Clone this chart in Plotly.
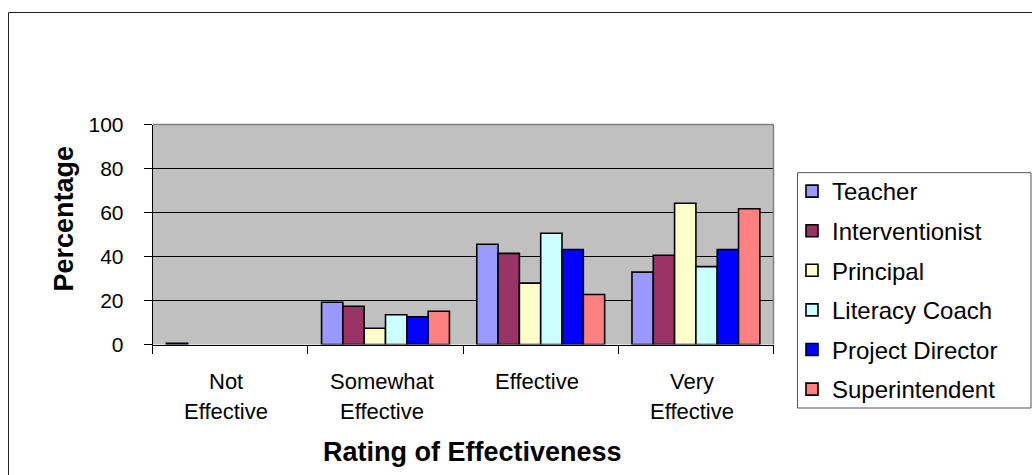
import plotly.graph_objects as go

# Survey ratings: share of each respondent group choosing each rating
categories = ["Not Effective", "Somewhat Effective", "Effective", "Very Effective"]
category_lines = [["Not", "Effective"], ["Somewhat", "Effective"], ["Effective"], ["Very", "Effective"]]
teacher = [0.6, 19.2, 45.6, 32.9]
interventionist = [0, 17.4, 41.4, 40.6]
principal = [0, 7.4, 27.9, 64.2]
literacy_coach = [0, 13.5, 50.6, 35.4]
project_director = [0, 12.6, 43.2, 43.2]
superintendent = [0, 15.1, 22.7, 61.7]

y_ticks = [0, 20, 40, 60, 80, 100]

series = [
    ("Teacher", teacher, "#9999FF"),
    ("Interventionist", interventionist, "#993366"),
    ("Principal", principal, "#FFFFCC"),
    ("Literacy Coach", literacy_coach, "#CCFFFF"),
    ("Project Director", project_director, "#0000FF"),
    ("Superintendent", superintendent, "#FF8080"),
]

FONT = "Liberation Sans, Arial, sans-serif"
W, H = 1032, 475

fig = go.Figure()
for i, (name, vals, color) in enumerate(series):
    # empty (zero) bars are left out so their outline leaves no mark on the axis
    heights = [v if v > 0 else None for v in vals]
    fig.add_trace(go.Bar(
        name=name, x=categories, y=heights,
        marker=dict(color=color, line=dict(color="black", width=1.6)),
        legendgroup=f"g{i}",
    ))

# plot area in pixels
px_l, px_r, px_t, px_b = 152.7, 773.5, 124.5, 344.5

# category labels, one annotation per text line
label_annotations = []
for cat, lines in zip(categories, category_lines):
    for j, line in enumerate(lines):
        label_annotations.append(dict(
            text=line, xref="x", yref="paper", x=cat, y=(H - (381 + 30.5 * j)) / H,
            xshift=-4, showarrow=False, xanchor="center", yanchor="middle",
            font=dict(family=FONT, size=22, color="black"),
        ))

fig.update_layout(
    width=W, height=H, autosize=False,
    margin=dict(l=0, r=0, t=0, b=0, autoexpand=False),
    paper_bgcolor="white", plot_bgcolor="#C0C0C0",
    barmode="group", bargap=0.176, bargroupgap=0,
    font=dict(family=FONT, color="black", size=21),
    showlegend=True,
    legend=dict(
        x=792 / W, y=(H - 169) / H, xanchor="left", yanchor="top",
        bgcolor="rgba(0,0,0,0)", borderwidth=0,
        font=dict(family=FONT, size=24, color="black"),
        tracegroupgap=5.4,
    ),
    xaxis=dict(
        domain=[px_l / W, px_r / W], type="category", automargin=False,
        categoryorder="array", categoryarray=categories,
        showline=True, linecolor="black", linewidth=1,
        ticks="outside", ticklen=8, tickcolor="black", tickson="boundaries",
        showgrid=False, showticklabels=False,
    ),
    yaxis=dict(
        domain=[(H - px_b) / H, (H - px_t) / H], range=[0, 100], automargin=False,
        tickvals=y_ticks, ticktext=[str(v) for v in y_ticks],
        showline=True, linecolor="black", linewidth=1,
        ticks="outside", ticklen=8, tickcolor="black",
        showgrid=True, gridcolor="black", gridwidth=1,
        tickfont=dict(size=21), ticklabelstandoff=16,
        zeroline=False,
    ),
    shapes=[
        # top and right edges of plot area
        dict(type="line", xref="x domain", yref="y domain", x0=0, x1=1, y0=1, y1=1,
             line=dict(color="#808080", width=1.5)),
        dict(type="line", xref="x domain", yref="y domain", x0=1, x1=1, y0=0, y1=1,
             line=dict(color="#808080", width=1.5)),
        # chart frame
        dict(type="rect", xref="paper", yref="paper",
             x0=8.5 / W, x1=1.2, y0=-0.2, y1=(H - 12.5) / H,
             line=dict(color="#222222", width=1)),
        # legend box
        dict(type="rect", xref="paper", yref="paper",
             x0=797.5 / W, x1=1031 / W, y0=(H - 408) / H, y1=(H - 172.7) / H,
             fillcolor="white", line=dict(color="#555555", width=1)),
    ],
    annotations=label_annotations + [
        dict(text="<b>Percentage</b>", textangle=-90, xref="paper", yref="paper",
             x=64 / W, y=(H - 218.5) / H, showarrow=False,
             xanchor="center", yanchor="middle",
             font=dict(family=FONT, size=27, color="black")),
        dict(text="<b>Rating of Effectiveness</b>", xref="paper", yref="paper",
             x=472 / W, y=(H - 452) / H, showarrow=False,
             xanchor="center", yanchor="middle",
             font=dict(family=FONT, size=27, color="black")),
    ],
)

fig.write_html("out.html")
